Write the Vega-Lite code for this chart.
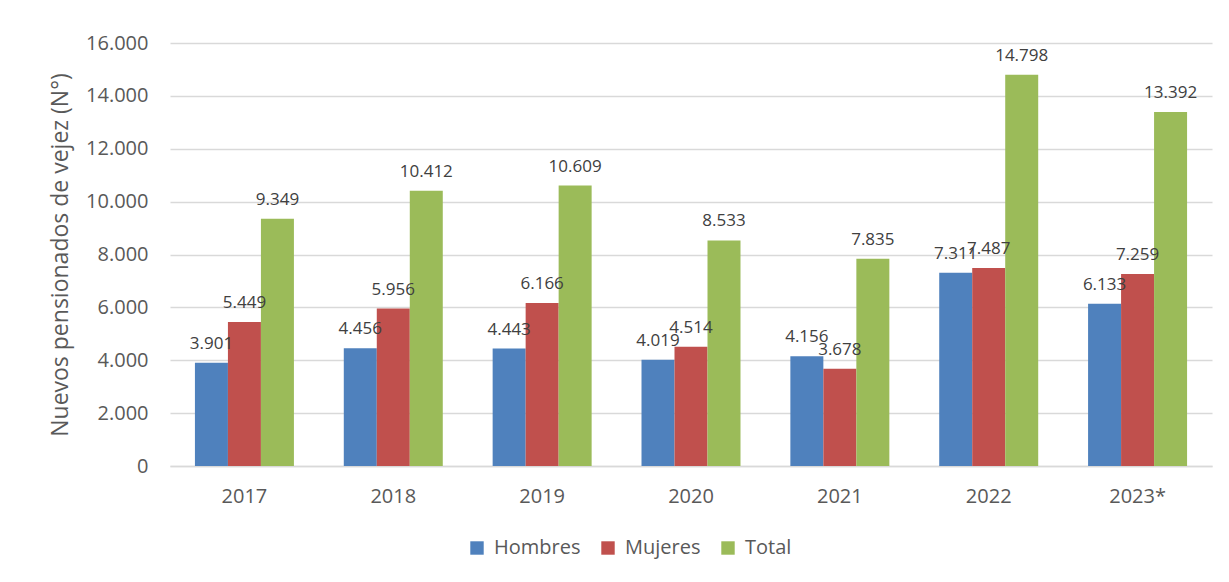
{
  "$schema": "https://vega.github.io/schema/vega-lite/v6.json",
  "autosize": "none",
  "width": 1042,
  "height": 423,
  "padding": {"left": 170, "top": 43, "right": 17, "bottom": 116},
  "background": "white",
  "config": {
    "locale": {"number": {"decimal": ",", "thousands": ".", "grouping": [3], "currency": ["$", ""]}},
    "view": {"stroke": null},
    "font": "Open Sans"
  },
  "data": {
    "values": [
      {"year": "2017", "serie": "Hombres", "value": 3901},
      {"year": "2017", "serie": "Mujeres", "value": 5449},
      {"year": "2017", "serie": "Total", "value": 9349},
      {"year": "2018", "serie": "Hombres", "value": 4456},
      {"year": "2018", "serie": "Mujeres", "value": 5956},
      {"year": "2018", "serie": "Total", "value": 10412},
      {"year": "2019", "serie": "Hombres", "value": 4443},
      {"year": "2019", "serie": "Mujeres", "value": 6166},
      {"year": "2019", "serie": "Total", "value": 10609},
      {"year": "2020", "serie": "Hombres", "value": 4019},
      {"year": "2020", "serie": "Mujeres", "value": 4514},
      {"year": "2020", "serie": "Total", "value": 8533},
      {"year": "2021", "serie": "Hombres", "value": 4156},
      {"year": "2021", "serie": "Mujeres", "value": 3678},
      {"year": "2021", "serie": "Total", "value": 7835},
      {"year": "2022", "serie": "Hombres", "value": 7311},
      {"year": "2022", "serie": "Mujeres", "value": 7487},
      {"year": "2022", "serie": "Total", "value": 14798},
      {"year": "2023*", "serie": "Hombres", "value": 6133},
      {"year": "2023*", "serie": "Mujeres", "value": 7259},
      {"year": "2023*", "serie": "Total", "value": 13392}
    ]
  },
  "encoding": {
    "x": {
      "field": "year", "type": "nominal", "sort": null,
      "scale": {"paddingInner": 0.335, "paddingOuter": 0.1675},
      "axis": {
        "title": null, "labelAngle": 0, "labelFontSize": 20, "labelColor": "#595959",
        "labelPadding": 20, "ticks": false, "domainColor": "#d9d9d9", "domainWidth": 1.5, "grid": false
      }
    },
    "xOffset": {"field": "serie", "type": "nominal", "sort": ["Hombres", "Mujeres", "Total"], "scale": {"paddingInner": 0, "paddingOuter": 0}},
    "y": {
      "field": "value", "type": "quantitative",
      "scale": {"domain": [0, 16000], "nice": false},
      "axis": {
        "values": [0, 2000, 4000, 6000, 8000, 10000, 12000, 14000, 16000],
        "format": ",d",
        "title": "Nuevos pensionados de vejez (N°)",
        "titleFontSize": 23, "titleFontWeight": "normal", "titleColor": "#595959", "titlePadding": 13,
        "labelFontSize": 20, "labelColor": "#595959", "labelPadding": 22,
        "ticks": false, "domain": false, "gridColor": "#d9d9d9", "gridWidth": 1.5
      }
    }
  },
  "layer": [
    {
      "mark": {"type": "bar"},
      "encoding": {
        "color": {
          "field": "serie", "type": "nominal",
          "scale": {"domain": ["Hombres", "Mujeres", "Total"], "range": ["#4F81BD", "#C0504D", "#9BBB59"]},
          "legend": {
            "title": null, "orient": "none", "direction": "horizontal",
            "legendX": 297, "legendY": 495,
            "symbolType": "square", "symbolSize": 180, "symbolStrokeWidth": 0,
            "labelFontSize": 20, "labelColor": "#595959", "labelOffset": 7, "columnPadding": 17
          }
        }
      }
    },
    {
      "mark": {"type": "text", "baseline": "alphabetic", "dy": -14, "fontSize": 17, "color": "#404040"},
      "encoding": {
        "text": {"field": "value", "type": "quantitative", "format": ",d"}
      }
    }
  ]
}
